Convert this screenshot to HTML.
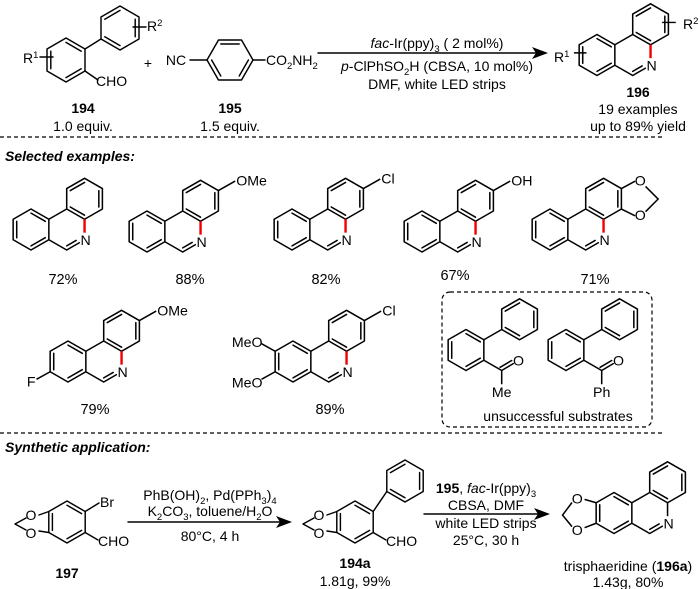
<!DOCTYPE html>
<html><head><meta charset="utf-8"><style>
html,body{margin:0;padding:0;background:#fff;}
svg{display:block;font-family:"Liberation Sans",Arial,sans-serif;}
</style></head><body>
<svg width="700" height="589" viewBox="0 0 700 589" xmlns="http://www.w3.org/2000/svg">
<defs>
<g id="phen" fill="none" stroke="#000" stroke-width="1.45" stroke-linecap="round" stroke-linejoin="round">
<path d="M0,-19.5 L17,-9.75 L17,9.75 L0,19.5 L-17,9.75 L-17,-9.75 Z"/>
<path d="M17,9.75 L34,19.5 M17,-9.75 L34,-19.5 M34,19.5 L46,12.6"/>
<path d="M51,-48.75 L68,-39 L68,-19.5 L51,-9.75 L34,-19.5 L34,-39 Z"/>
<path d="M-13.6,7.8 L-13.6,-7.8 M0,-15.6 L13.6,-7.8 M13.6,7.8 L0,15.6"/>
<path d="M37.4,-37.05 L51,-44.85 M64.6,-37.05 L64.6,-21.45 M51,-13.65 L37.4,-21.45"/>
<path d="M34,15.6 L43,10.4"/>
</g>
<g id="biph" fill="none" stroke="#000" stroke-width="1.45" stroke-linecap="round" stroke-linejoin="round">
<path d="M0,-19.5 L17,-9.75 L17,9.75 L0,19.5 L-17,9.75 L-17,-9.75 Z"/>
<path d="M51,-48.75 L68,-39 L68,-19.5 L51,-9.75 L34,-19.5 L34,-39 Z"/>
<path d="M17,-9.75 L34,-19.5"/>
<path d="M-13.6,7.8 L-13.6,-7.8 M0,-15.6 L13.6,-7.8 M13.6,7.8 L0,15.6"/>
<path d="M37.4,-37.05 L51,-44.85 M64.6,-37.05 L64.6,-21.45 M51,-13.65 L37.4,-21.45"/>
<path d="M17,9.75 L34,19.5 L34,32 M34,19.5 L45,13 M32.5,16.5 L43.5,10"/>
</g>
</defs>

<g fill="none" stroke="#000" stroke-width="1.45" stroke-linecap="round" stroke-linejoin="round">
<path d="M66,38 L85,49 L85,71 L66,82 L47,71 L47,49 Z"/>
<path d="M50.8,68.8 L50.8,51.2 M66,42.4 L81.2,51.2 M81.2,68.8 L66,77.6"/>
<path d="M120,6 L139,17 L139,39 L120,50 L101,39 L101,17 Z"/>
<path d="M104.8,19.2 L120,10.4 M135.2,19.2 L135.2,36.8 M120,45.6 L104.8,36.8"/>
<path d="M85,49 L101,39 M85,71 L98,80"/>
<path d="M133,27 L146,27 M40,57 L53,57"/>
<path d="M207,60 L218.5,40 L241.5,40 L253,60 L241.5,80 L218.5,80 Z"/>
<path d="M220.8,44 L239.2,44 M248.4,60 L239.2,76 M220.8,76 L211.6,60"/>
<path d="M190,60 L207,60 M253,60 L265,60"/>
<path d="M318,53 L538,53"/>
<path d="M424,514 L538,514"/>
<path d="M128,522 L282,522"/>
</g>
<path d="M548,53 L532,47 L536,53 L532,59 Z" fill="#000"/>
<path d="M292,522 L276,516 L280,522 L276,528 Z" fill="#000"/>
<path d="M550,514 L534,508 L538,514 L534,520 Z" fill="#000"/>

<g font-size="14" fill="#000">
<text x="23" y="63">R<tspan font-size="9.5" dy="-5">1</tspan></text>
<text x="147" y="31">R<tspan font-size="9.5" dy="-5">2</tspan></text>
<text x="96" y="86">CHO</text>
<text x="83" y="113" text-anchor="middle" font-weight="bold">194</text>
<text x="83" y="131" text-anchor="middle">1.0 equiv.</text>
<text x="148" y="68" text-anchor="middle">+</text>
<text x="176" y="65" text-anchor="middle">NC</text>
<text x="266" y="65">CO<tspan font-size="9.5" dy="4">2</tspan><tspan dy="-4">NH</tspan><tspan font-size="9.5" dy="4">2</tspan></text>
<text x="230" y="113" text-anchor="middle" font-weight="bold">195</text>
<text x="230" y="131" text-anchor="middle">1.5 equiv.</text>
<text x="437" y="48" text-anchor="middle"><tspan font-style="italic">fac</tspan>-Ir(ppy)<tspan font-size="9.5" dy="4">3</tspan><tspan dy="-4"> ( 2 mol%)</tspan></text>
<text x="437" y="71" text-anchor="middle"><tspan font-style="italic">p</tspan>-ClPhSO<tspan font-size="9.5" dy="4">2</tspan><tspan dy="-4">H (CBSA, 10 mol%)</tspan></text>
<text x="437" y="89" text-anchor="middle">DMF, white LED strips</text>
<text x="638" y="97" text-anchor="middle" font-weight="bold">196</text>
<text x="638" y="114" text-anchor="middle">19 examples</text>
<text x="638" y="131" text-anchor="middle">up to 89% yield</text>
<text x="554" y="62">R<tspan font-size="9.5" dy="-5">1</tspan></text>
<text x="683" y="29">R<tspan font-size="9.5" dy="-5">2</tspan></text>
</g>
<g transform="translate(597,55) scale(1.05)">
<use href="#phen"/>
<path d="M51,-9.75 L51,3" stroke="#e00" stroke-width="2.3"/>
<path d="M-22,-2 L-10,-2 M62,-31 L75,-31" stroke="#000" stroke-width="1.4"/>
<text x="52" y="15" text-anchor="middle" font-size="13.5">N</text>
</g>

<g stroke="#000" stroke-width="1.2" stroke-dasharray="4,3" fill="none">
<path d="M0,137 L665,137"/>
<path d="M0,433 L665,433"/>
<rect x="442" y="292" width="210" height="135" rx="8"/>
</g>
<g font-size="14" font-weight="bold" font-style="italic" fill="#000">
<text x="5" y="161">Selected examples:</text>
<text x="5" y="452">Synthetic application:</text>
</g>

<g font-size="13.5" fill="#000">
<g transform="translate(31,229.5) scale(1.05)"><use href="#phen"/><path d="M51,-9.75 L51,3" stroke="#e00" stroke-width="2.3"/><text x="52" y="15" text-anchor="middle">N</text></g>
<g transform="translate(147,231.5) scale(1.05)"><use href="#phen"/><path d="M51,-9.75 L51,3" stroke="#e00" stroke-width="2.3"/><text x="52" y="15" text-anchor="middle">N</text><path d="M68,-39 L84,-48" stroke="#000" stroke-width="1.45"/><text x="85" y="-44">OMe</text></g>
<g transform="translate(292,229.5) scale(1.05)"><use href="#phen"/><path d="M51,-9.75 L51,3" stroke="#e00" stroke-width="2.3"/><text x="52" y="15" text-anchor="middle">N</text><path d="M68,-39 L84,-48" stroke="#000" stroke-width="1.45"/><text x="85" y="-44">Cl</text></g>
<g transform="translate(422,231.5) scale(1.05)"><use href="#phen"/><path d="M51,-9.75 L51,3" stroke="#e00" stroke-width="2.3"/><text x="52" y="15" text-anchor="middle">N</text><path d="M68,-39 L84,-48" stroke="#000" stroke-width="1.45"/><text x="85" y="-44">OH</text></g>
<g transform="translate(550,229.5) scale(1.05)"><use href="#phen"/><path d="M51,-9.75 L51,3" stroke="#e00" stroke-width="2.3"/><text x="52" y="15" text-anchor="middle">N</text>
<path d="M68,-39 L81,-46 M68,-19.5 L81,-13 M91,-41 L103,-29 L91,-17" stroke="#000" stroke-width="1.45" fill="none"/>
<text x="86" y="-42" text-anchor="middle">O</text><text x="86" y="-9" text-anchor="middle">O</text></g>
<g transform="translate(68,361.5) scale(1.05)"><use href="#phen"/><path d="M51,-9.75 L51,3" stroke="#e00" stroke-width="2.3"/><text x="52" y="15" text-anchor="middle">N</text><path d="M68,-39 L84,-48 M-17,9.75 L-30,17" stroke="#000" stroke-width="1.45"/><text x="85" y="-44">OMe</text><text x="-35" y="24" text-anchor="middle">F</text></g>
<g transform="translate(293,361.5) scale(1.05)"><use href="#phen"/><path d="M51,-9.75 L51,3" stroke="#e00" stroke-width="2.3"/><text x="52" y="15" text-anchor="middle">N</text><path d="M68,-39 L84,-48 M-17,-9.75 L-30,-17 M-17,9.75 L-30,17" stroke="#000" stroke-width="1.45"/><text x="85" y="-44">Cl</text><text x="-29" y="-14" text-anchor="end">MeO</text><text x="-29" y="25" text-anchor="end">MeO</text></g>

<g font-size="14.5">
<text x="63" y="284" text-anchor="middle">72%</text>
<text x="190" y="284" text-anchor="middle">88%</text>
<text x="326" y="284" text-anchor="middle">82%</text>
<text x="455" y="280" text-anchor="middle">67%</text>
<text x="595" y="284" text-anchor="middle">71%</text>
<text x="95" y="414" text-anchor="middle">79%</text>
<text x="330" y="414" text-anchor="middle">89%</text>
</g>

<g transform="translate(466,350) scale(1.05)"><use href="#biph"/><text x="50" y="15" text-anchor="middle">O</text><text x="34" y="45" text-anchor="middle">Me</text></g>
<g transform="translate(566,350) scale(1.05)"><use href="#biph"/><text x="50" y="15" text-anchor="middle">O</text><text x="34" y="45" text-anchor="middle">Ph</text></g>
<text x="558" y="421" text-anchor="middle" font-size="14">unsuccessful substrates</text>
</g>

<g fill="none" stroke="#000" stroke-width="1.45" stroke-linecap="round" stroke-linejoin="round">
<path d="M67,501 L85.2,511.5 L85.2,532.5 L67,543 L48.8,532.5 L48.8,511.5 Z"/>
<path d="M67,505.2 L81.6,513.6 M81.6,530.4 L67,538.8 M52.4,530.4 L52.4,513.6"/>
<path d="M48.8,511.5 L39,515 M48.8,532.5 L39,531 M26,518 L15,524 L26,530 M85.2,511.5 L99,503 M85.2,532.5 L98,540"/>
<path d="M355,501 L373.2,511.5 L373.2,532.5 L355,543 L336.8,532.5 L336.8,511.5 Z"/>
<path d="M355,505.2 L369.6,513.6 M369.6,530.4 L355,538.8 M340.4,530.4 L340.4,513.6"/>
<path d="M336.8,511.5 L327,515 M336.8,532.5 L327,531 M314,518 L303,524 L314,530 M373.2,532.5 L386,540"/>
<path d="M405,460 L423.2,470.5 L423.2,491.5 L405,502 L386.8,491.5 L386.8,470.5 Z"/>
<path d="M390.4,472.6 L405,464.2 M419.6,472.6 L419.6,489.4 M405,497.8 L390.4,489.4"/>
<path d="M373.2,511.5 L386.8,491.5"/>
</g>
<g font-size="14" fill="#000">
<text x="31" y="520" text-anchor="middle">O</text>
<text x="31" y="538" text-anchor="middle">O</text>
<text x="100" y="507">Br</text>
<text x="98" y="546">CHO</text>
<text x="67" y="578" text-anchor="middle" font-weight="bold">197</text>
<text x="319" y="520" text-anchor="middle">O</text>
<text x="319" y="538" text-anchor="middle">O</text>
<text x="386" y="546">CHO</text>
<text x="355" y="568" text-anchor="middle" font-weight="bold">194a</text>
<text x="355" y="586" text-anchor="middle">1.81g, 99%</text>
<text x="210" y="500" text-anchor="middle">PhB(OH)<tspan font-size="9.5" dy="4">2</tspan><tspan dy="-4">, Pd(PPh</tspan><tspan font-size="9.5" dy="4">3</tspan><tspan dy="-4">)</tspan><tspan font-size="9.5" dy="4">4</tspan></text>
<text x="210" y="516" text-anchor="middle">K<tspan font-size="9.5" dy="4">2</tspan><tspan dy="-4">CO</tspan><tspan font-size="9.5" dy="4">3</tspan><tspan dy="-4">, toluene/H</tspan><tspan font-size="9.5" dy="4">2</tspan><tspan dy="-4">O</tspan></text>
<text x="210" y="541" text-anchor="middle">80°C, 4 h</text>
<text x="486" y="493" text-anchor="middle"><tspan font-weight="bold">195</tspan>, <tspan font-style="italic">fac</tspan>-Ir(ppy)<tspan font-size="9.5" dy="4">3</tspan></text>
<text x="486" y="510" text-anchor="middle">CBSA, DMF</text>
<text x="486" y="528" text-anchor="middle">white LED strips</text>
<text x="486" y="545" text-anchor="middle">25°C, 30 h</text>
<text x="628" y="571" text-anchor="middle">trisphaeridine (<tspan font-weight="bold">196a</tspan>)</text>
<text x="628" y="587" text-anchor="middle">1.43g, 80%</text>
</g>
<g transform="translate(614,513) scale(1.05)" font-size="13.5" fill="#000">
<use href="#phen"/>
<path d="M51,-9.75 L51,3 M-17,-9.75 L-28,-13 M-17,9.75 L-28,14 M-40,-10 L-49,2 L-40,13" stroke="#000" stroke-width="1.45" fill="none"/>
<text x="52" y="15" text-anchor="middle">N</text>
<text x="-35" y="-9" text-anchor="middle">O</text>
<text x="-35" y="21" text-anchor="middle">O</text>
</g>
</svg>
</body></html>
